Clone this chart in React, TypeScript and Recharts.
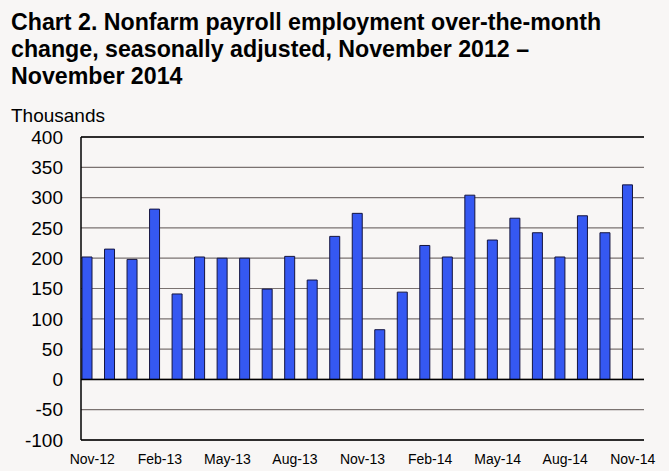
import { BarChart, Bar, XAxis, YAxis, CartesianGrid, ReferenceLine } from "recharts";

const months = [
  "Nov-12", "Dec-12", "Jan-13", "Feb-13", "Mar-13", "Apr-13", "May-13",
  "Jun-13", "Jul-13", "Aug-13", "Sep-13", "Oct-13", "Nov-13", "Dec-13",
  "Jan-14", "Feb-14", "Mar-14", "Apr-14", "May-14", "Jun-14", "Jul-14",
  "Aug-14", "Sep-14", "Oct-14", "Nov-14",
];

const change = [
  202, 215, 198, 281, 141, 202, 200, 200, 149, 203, 164, 236, 274, 82,
  144, 221, 202, 304, 230, 266, 242, 202, 270, 242, 321,
];

const yTicks = [-100, -50, 0, 50, 100, 150, 200, 250, 300, 350, 400];

const data = months.map((m, i) => ({ month: m, change: change[i], blank: null }));

const font = "'Liberation Sans', Arial, sans-serif";

export default function App() {
  return (
    <div
      style={{
        position: "absolute",
        left: 0,
        top: 0,
        width: 669,
        height: 471,
        background: "#f8f6f5",
        fontFamily: font,
        color: "#000",
      }}
    >
      <div
        style={{
          position: "absolute",
          left: 11,
          top: 9,
          fontSize: 23.2,
          fontWeight: "bold",
          lineHeight: "27px",
          whiteSpace: "nowrap",
        }}
      >
        Chart 2. Nonfarm payroll employment over-the-month
        <br />
        change, seasonally adjusted, November 2012 –
        <br />
        November 2014
      </div>
      <div style={{ position: "absolute", left: 11, top: 105, fontSize: 19 }}>
        Thousands
      </div>
      <BarChart
        width={669}
        height={471}
        data={data}
        margin={{ top: 137, right: 25, bottom: 6, left: 11 }}
        barGap={0}
        style={{ position: "absolute", left: 0, top: 0 }}
      >
        <CartesianGrid vertical={false} stroke="#7a7270" strokeWidth={1.2} />
        <XAxis
          dataKey="month"
          interval={2}
          height={25}
          tickSize={0}
          tickMargin={14}
          axisLine={{ stroke: "#000", strokeWidth: 1.5 }}
          tick={{ fontSize: 14, fill: "#000", fontFamily: font }}
        />
        <YAxis
          domain={[-100, 400]}
          ticks={yTicks}
          width={70}
          tickSize={0}
          tickMargin={18}
          interval={0}
          axisLine={{ stroke: "#000", strokeWidth: 1.5 }}
          tick={{ fontSize: 19, fill: "#000", fontFamily: font }}
        />
        <YAxis
          yAxisId="right"
          orientation="right"
          domain={[-100, 400]}
          width={0}
          tick={false}
          tickLine={false}
          axisLine={{ stroke: "#000", strokeWidth: 1.5 }}
        />
        <ReferenceLine y={400} stroke="#000" strokeWidth={1.5} />
        <Bar
          dataKey="change"
          barSize={10}
          fill="#3558f2"
          stroke="#15153f"
          strokeWidth={1}
          isAnimationActive={false}
        />
        <Bar dataKey="blank" barSize={10} fill="none" isAnimationActive={false} />
        <ReferenceLine y={0} stroke="#000" strokeWidth={1.5} />
      </BarChart>
    </div>
  );
}
